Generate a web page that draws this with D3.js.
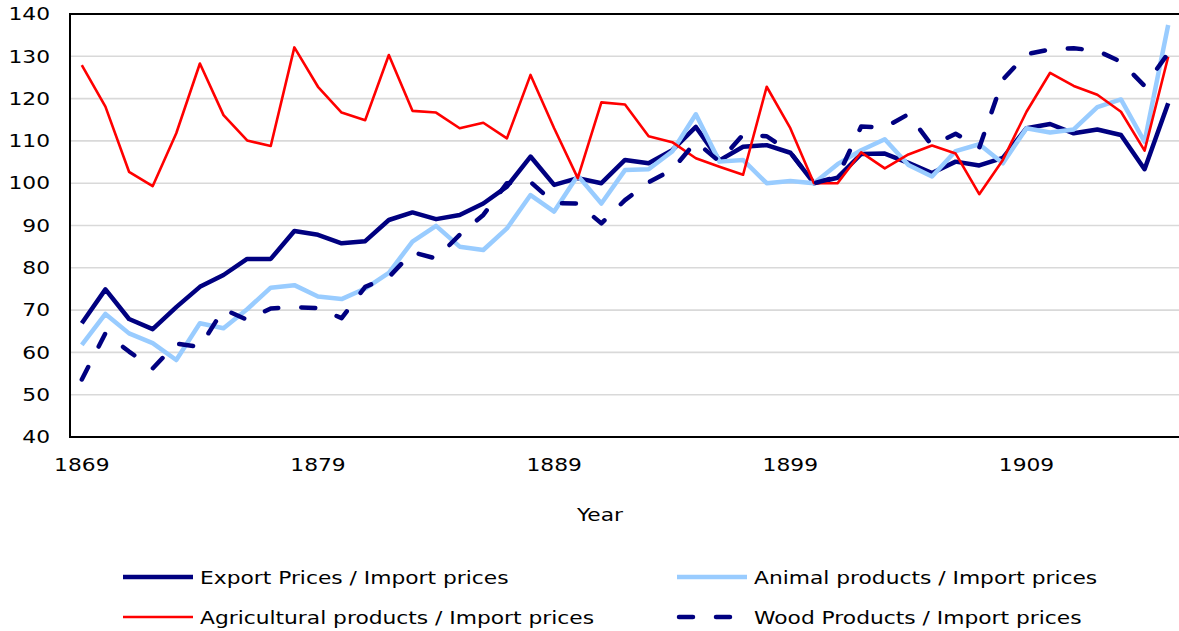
<!DOCTYPE html>
<html>
<head>
<meta charset="utf-8">
<script src="https://cdn.jsdelivr.net/npm/d3@7"></script>
<style>
  body { margin: 0; background: #fff; }
  text { font-family: "DejaVu Sans", Verdana, sans-serif; fill: #000; }
</style>
</head>
<body>
<svg id="chart" width="1179" height="631"></svg>
<script>
const years = d3.range(1869, 1916);
const tickYears = [1869, 1879, 1889, 1899, 1909];
const yTicks = [40, 50, 60, 70, 80, 90, 100, 110, 120, 130, 140];

const exportPrices = [66.9, 74.9, 67.9, 65.5, 70.7, 75.5, 78.3, 82.1, 82.1, 88.7,
  87.8, 85.8, 86.3, 91.3, 93.1, 91.5, 92.5, 95.2, 99.2, 106.3,
  99.6, 101.2, 100.0, 105.5, 104.7, 107.8, 113.3, 105.4, 108.6, 109.0,
  107.2, 100.0, 101.3, 106.9, 107.0, 104.8, 102.4, 105.1, 104.2, 106.0,
  113.0, 114.0, 111.8, 112.7, 111.4, 103.3, 118.9];

const animalProducts = [61.8, 69.1, 64.5, 62.2, 58.2, 66.9, 65.7, 70.2, 75.3, 75.9,
  73.2, 72.6, 75.1, 78.8, 86.2, 89.9, 85.0, 84.2, 89.3, 97.2,
  93.3, 101.8, 95.2, 103.1, 103.3, 107.5, 116.3, 105.1, 105.5, 100.0,
  100.5, 100.0, 104.5, 107.8, 110.4, 104.3, 101.6, 107.6, 109.2, 104.7,
  113.0, 112.0, 112.7, 118.0, 119.8, 109.8, 137.4];

const agriculturalProducts = [127.9, 118.1, 102.7, 99.3, 111.8, 128.3, 116.1, 110.1, 108.8, 132.1,
  122.8, 116.7, 114.9, 130.3, 117.1, 116.7, 113.0, 114.3, 110.6, 125.6,
  113.0, 101.2, 119.1, 118.6, 111.1, 109.7, 105.9, 103.9, 102.0, 122.8,
  113.0, 100.0, 100.0, 107.3, 103.5, 106.8, 108.9, 107.0, 97.4, 105.5,
  116.9, 126.1, 123.0, 120.9, 116.9, 107.7, 129.9];

const woodProducts = [53.6, 64.5, 60.2, 56.2, 62.1, 61.3, 70.2, 67.7, 70.4, 70.7,
  70.5, 68.1, 75.5, 77.8, 83.7, 82.2, 87.8, 92.5, 100.0, 100.3,
  95.3, 95.2, 90.5, 96.0, 100.2, 103.2, 109.8, 105.1, 111.5, 111.1,
  107.3, 100.0, 101.5, 113.4, 113.2, 116.3, 108.9, 111.7, 108.4, 124.5,
  130.5, 131.6, 131.9, 131.3, 128.7, 123.0, 130.7];

const series = [
  { name: "Export Prices / Import prices", values: exportPrices, color: "#000080", width: 4.5, dash: null },
  { name: "Animal products / Import prices", values: animalProducts, color: "#99ccff", width: 4.5, dash: null },
  { name: "Agricultural products / Import prices", values: agriculturalProducts, color: "#ff0000", width: 2.6, dash: null },
  { name: "Wood Products / Import prices", values: woodProducts, color: "#000080", width: 4.5, dash: "14,23" }
];

const box = { left: 70, top: 14, right: 1180, bottom: 437 };
const stretch = 1.21; // text in the original is wider than DejaVu Sans

const svg = d3.select('#chart');

const x = d3.scaleBand().domain(years).range([box.left, box.right]);
const y = d3.scaleLinear().domain([40, 140]).range([box.bottom, box.top]);
const cx = d => x(d) + x.bandwidth() / 2;

// gridlines
svg.append('g')
  .selectAll('line')
  .data(yTicks.filter(t => t > 40 && t < 140))
  .enter().append('line')
  .attr('x1', box.left).attr('x2', box.right)
  .attr('y1', d => y(d)).attr('y2', d => y(d))
  .style('stroke', '#d9d9d9').style('stroke-width', 1.6);

// y labels
const yAxis = svg.append('g')
  .attr('transform', `translate(${box.left},0)`)
  .call(d3.axisLeft(y).tickValues(yTicks).tickSize(0).tickPadding(16.5));
yAxis.select('.domain').remove();
yAxis.selectAll('text')
  .style('font-size', '18px')
  .style('font-family', '"DejaVu Sans", Verdana, sans-serif')
  .attr('transform', `scale(${stretch},1)`);

// x labels
const xAxis = svg.append('g')
  .attr('transform', `translate(0,${box.bottom})`)
  .call(d3.axisBottom(x).tickValues(tickYears).tickSize(0).tickPadding(21));
xAxis.select('.domain').remove();
xAxis.selectAll('text')
  .style('font-size', '18px')
  .style('font-family', '"DejaVu Sans", Verdana, sans-serif')
  .attr('transform', `scale(${stretch},1)`);

// lines
const line = d3.line().x((d, i) => cx(years[i])).y(d => y(d));

series.forEach(s => {
  svg.append('path')
    .datum(s.values)
    .attr('d', line)
    .style('fill', 'none')
    .style('stroke', s.color)
    .style('stroke-width', s.width)
    .style('stroke-linejoin', 'round')
    .style('stroke-linecap', s.dash ? 'round' : 'butt')
    .style('stroke-dasharray', s.dash);
});

// frame
svg.append('line')
  .attr('x1', box.left).attr('x2', box.right)
  .attr('y1', box.top).attr('y2', box.top)
  .style('stroke', 'black').style('stroke-width', 2);
svg.append('line')
  .attr('x1', box.left).attr('x2', box.right)
  .attr('y1', box.bottom).attr('y2', box.bottom)
  .style('stroke', 'black').style('stroke-width', 2);
svg.append('line')
  .attr('x1', box.left).attr('x2', box.left)
  .attr('y1', box.top - 1).attr('y2', box.bottom + 1)
  .style('stroke', 'black').style('stroke-width', 2);

// axis title
svg.append('text')
  .attr('transform', `translate(600,521) scale(${stretch},1)`)
  .style('text-anchor', 'middle')
  .style('font-size', '18px')
  .text('Year');

// legend
const legendPos = [
  { x: 123, y: 577 },
  { x: 677, y: 577 },
  { x: 123, y: 617 },
  { x: 677, y: 617 }
];

const legend = svg.append('g');
series.forEach((s, i) => {
  const p = legendPos[i];
  legend.append('line')
    .attr('x1', p.x + (s.dash ? 2 : 0)).attr('x2', p.x + 70)
    .attr('y1', p.y).attr('y2', p.y)
    .style('stroke', s.color)
    .style('stroke-width', s.width)
    .style('stroke-linecap', s.dash ? 'round' : 'butt')
    .style('stroke-dasharray', s.dash);
  legend.append('text')
    .attr('transform', `translate(${p.x + 77},${p.y + 6.5}) scale(${stretch},1)`)
    .style('font-size', '18px')
    .text(s.name);
});
</script>
</body>
</html>
